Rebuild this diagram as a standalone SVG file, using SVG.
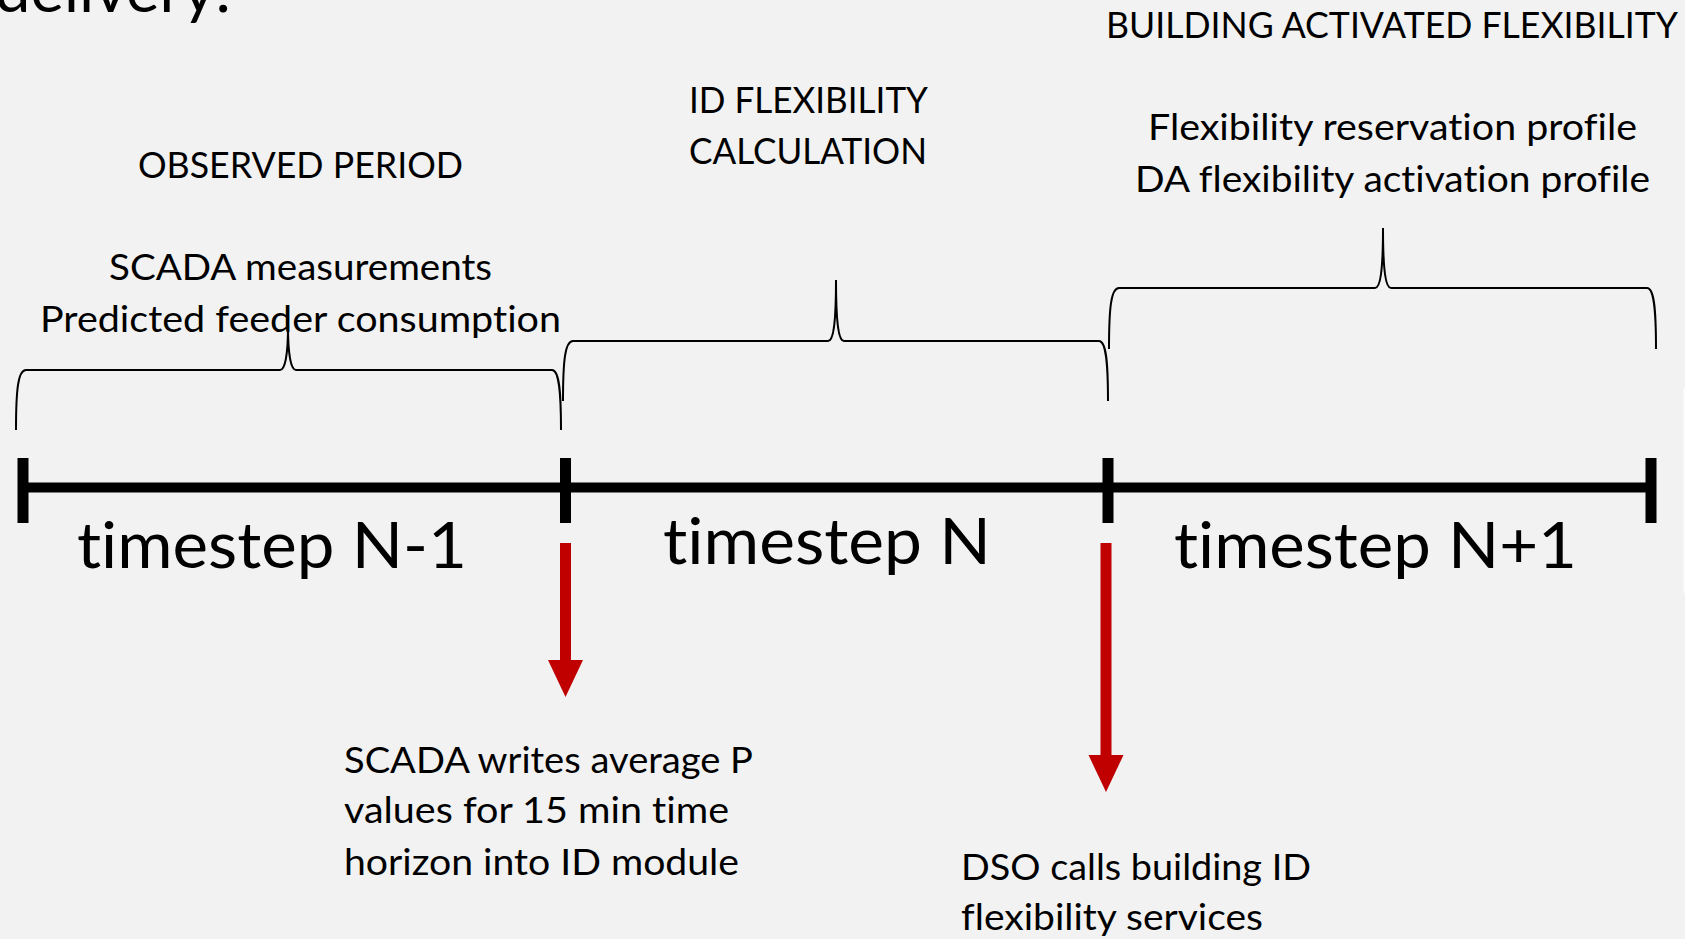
<svg xmlns="http://www.w3.org/2000/svg" width="1685" height="939" viewBox="0 0 1685 939">
<style>
.t{font-family:Lato,"Open Sans","Liberation Sans",sans-serif;fill:#000;font-variant-ligatures:none;font-feature-settings:"liga" 0,"clig" 0;}
.b{font-size:36px;}
.ts{font-size:63px;}
.brace{fill:none;stroke:#000;stroke-width:2;}
.axis{stroke:#000;stroke-width:10;}
.tick{stroke:#000;stroke-width:11;}
.shaft{stroke:#c00000;stroke-width:11;}
.head{fill:#c00000;}
</style>
<rect x="0" y="0" width="1685" height="939" fill="#f2f2f2"/>
<rect x="1683" y="388" width="2" height="205" fill="#fafafa"/>

<text class="t" x="-5" y="12" font-size="62" textLength="236" lengthAdjust="spacingAndGlyphs">delivery:</text>

<g id="timeline">
  <line class="axis" x1="23" y1="487.5" x2="1651" y2="487.5"/>
  <line class="tick" x1="23" y1="458" x2="23" y2="523"/>
  <line class="tick" x1="565.5" y1="458" x2="565.5" y2="523"/>
  <line class="tick" x1="1108" y1="458" x2="1108" y2="523"/>
  <line class="tick" x1="1651" y1="458" x2="1651" y2="523"/>
</g>

<g id="observed-period">
  <path class="brace" d="M16,430 C16,390 18,370 26,370 L280,370 C285,370 288,355 288,326 C288,355 291,370 296,370 L552,370 C559,370 561,390 561,430"/>
  <text class="t b" x="138" y="178" textLength="325" lengthAdjust="spacingAndGlyphs">OBSERVED PERIOD</text>
  <text class="t b" x="109" y="280" textLength="383" lengthAdjust="spacingAndGlyphs">SCADA measurements</text>
  <text class="t b" x="40" y="331.5" textLength="521" lengthAdjust="spacingAndGlyphs">Predicted feeder consumption</text>
</g>

<g id="id-flexibility-calculation">
  <path class="brace" d="M563,401 C563,361 565,341 573,341 L828,341 C833,341 836,326 836,280 C836,326 839,341 844,341 L1099,341 C1106,341 1108,361 1108,401"/>
  <text class="t b" x="689" y="113" textLength="239" lengthAdjust="spacingAndGlyphs">ID FLEXIBILITY</text>
  <text class="t b" x="689" y="164" textLength="238" lengthAdjust="spacingAndGlyphs">CALCULATION</text>
</g>

<g id="building-activated-flexibility">
  <path class="brace" d="M1109,349 C1109,308 1111,288 1119,288 L1375,288 C1380,288 1383,273 1383,228 C1383,273 1386,288 1391,288 L1647,288 C1654,288 1656,308 1656,349"/>
  <text class="t b" x="1106" y="38" textLength="572" lengthAdjust="spacingAndGlyphs">BUILDING ACTIVATED FLEXIBILITY</text>
  <text class="t b" x="1148" y="140" textLength="489" lengthAdjust="spacingAndGlyphs">Flexibility reservation profile</text>
  <text class="t b" x="1135" y="192" textLength="515" lengthAdjust="spacingAndGlyphs">DA flexibility activation profile</text>
</g>

<g id="timestep-labels">
  <text class="t ts" x="77" y="568" textLength="390" lengthAdjust="spacingAndGlyphs">timestep N-1</text>
  <text class="t ts" x="663" y="564" textLength="328" lengthAdjust="spacingAndGlyphs">timestep N</text>
  <text class="t ts" x="1174" y="568" textLength="403" lengthAdjust="spacingAndGlyphs">timestep N+1</text>
</g>

<g id="connectors">
  <line class="shaft" x1="565.5" y1="543" x2="565.5" y2="662"/>
  <polygon class="head" points="548,660 583,660 565.5,697"/>
  <line class="shaft" x1="1106" y1="543" x2="1106" y2="757"/>
  <polygon class="head" points="1088.5,755 1123.5,755 1106,792"/>
</g>

<g id="scada-writes">
  <text class="t b" x="344" y="773" textLength="409" lengthAdjust="spacingAndGlyphs">SCADA writes average P</text>
  <text class="t b" x="344" y="823" textLength="385" lengthAdjust="spacingAndGlyphs">values for 15 min time</text>
  <text class="t b" x="344" y="875" textLength="395" lengthAdjust="spacingAndGlyphs">horizon into ID module</text>
</g>

<g id="dso-calls">
  <text class="t b" x="961" y="880" textLength="350" lengthAdjust="spacingAndGlyphs">DSO calls building ID</text>
  <text class="t b" x="961" y="930" textLength="302" lengthAdjust="spacingAndGlyphs">flexibility services</text>
</g>
</svg>
